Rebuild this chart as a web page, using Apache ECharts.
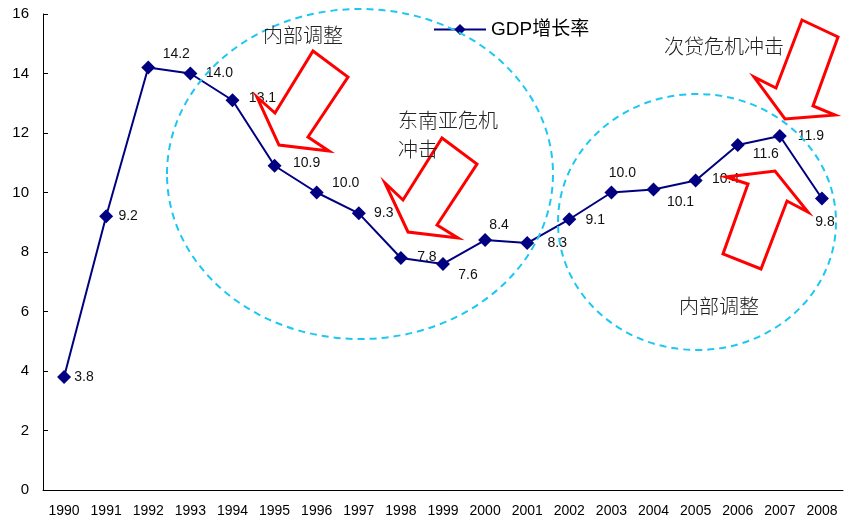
<!DOCTYPE html>
<html>
<head>
<meta charset="utf-8">
<script src="https://cdn.jsdelivr.net/npm/echarts@6/dist/echarts.min.js"></script>
<style>
  html, body { margin: 0; padding: 0; background: #fff; }
  #chart { width: 845px; height: 522px; }
</style>
</head>
<body>
<div id="chart"></div>
<script>
// Annual GDP growth, 1990–2008 (%)
const years = ['1990', '1991', '1992', '1993', '1994', '1995', '1996', '1997', '1998', '1999',
               '2000', '2001', '2002', '2003', '2004', '2005', '2006', '2007', '2008'];
const gdpGrowth = [3.8, 9.2, 14.2, 14.0, 13.1, 10.9, 10.0, 9.3, 7.8, 7.6,
                   8.4, 8.3, 9.1, 10.0, 10.1, 10.4, 11.6, 11.9, 9.8];
const seriesName = 'GDP增长率';
const yTicks = [0, 2, 4, 6, 8, 10, 12, 14, 16];

// where each value label sits relative to its marker (px)
const labelShift = [
  [20, 0], [22, 0], [28, -13], [29, 0], [30, -2], [32, -3], [29, -9], [25, 0], [26, -1], [25, 11],
  [14, -15], [30, 0], [26, 1], [11, -19], [27, 13], [30, -1], [28, 9], [31, 0], [3, 24]
];

const RED = '#FF0000';
const CYAN = '#1CC8F2';
const NAVY = '#000080';
const cjk = '"Noto Sans CJK SC", "Noto Sans", sans-serif';
const latin = '"Liberation Sans", Arial, sans-serif';

function arrow(points) {
  return {
    type: 'polygon', z: 100,
    shape: { points: points },
    style: { fill: 'none', stroke: RED, lineWidth: 3, lineJoin: 'miter' }
  };
}
function ring(cx, cy, rx, ry) {
  return {
    type: 'ellipse', z: 90,
    shape: { cx: cx, cy: cy, rx: rx, ry: ry },
    style: { fill: 'none', stroke: CYAN, lineWidth: 2, lineDash: [7, 5] }
  };
}
function note(x, y, text) {
  return {
    type: 'text', z: 110, left: x, top: y,
    style: { text: text, fill: '#222', font: '300 20px ' + cjk, lineHeight: 29 }
  };
}

const chart = echarts.init(document.getElementById('chart'));
chart.setOption({
  animation: false,
  backgroundColor: '#fff',
  grid: { left: 43, right: 2, top: 14, bottom: 32, containLabel: false },
  legend: {
    data: [seriesName],
    left: 428, top: 15,
    itemWidth: 52, itemHeight: 14,
    itemGap: 6,
    textStyle: { fontFamily: latin + ', ' + cjk, fontSize: 19, color: '#000' }
  },
  xAxis: {
    type: 'category',
    data: years,
    boundaryGap: true,
    axisLine: { lineStyle: { color: '#000', width: 1 } },
    axisTick: { inside: true, length: 5, lineStyle: { color: '#000' } },
    axisLabel: {
      color: '#000', fontSize: 14, margin: 14,
      fontFamily: '"Liberation Sans Narrow", "Arial Narrow", ' + latin
    },
    splitLine: { show: false }
  },
  yAxis: {
    type: 'value',
    min: yTicks[0], max: yTicks[yTicks.length - 1], interval: 2,
    axisLine: { show: true, lineStyle: { color: '#000', width: 1 } },
    axisTick: { show: true, inside: true, length: 5, lineStyle: { color: '#000' } },
    axisLabel: { color: '#000', fontSize: 15, margin: 14, fontFamily: latin },
    splitLine: { show: false }
  },
  series: [{
    name: seriesName,
    type: 'line',
    data: gdpGrowth.map((v, i) => ({
      value: v,
      label: { offset: labelShift[i] }
    })),
    symbol: 'diamond',
    symbolSize: 14,
    itemStyle: { color: NAVY },
    lineStyle: { color: NAVY, width: 2 },
    label: {
      show: true,
      position: 'inside',
      formatter: p => p.value.toFixed(1),
      color: '#111',
      fontSize: 14,
      fontFamily: latin
    },
    z: 10
  }],
  graphic: [
    ring(360, 174, 193, 165),
    ring(697, 222, 139, 128),
    arrow([[313, 51], [348, 77], [308, 137], [329, 151], [279, 145], [257, 97], [275, 113]]),
    arrow([[442, 138], [477, 164], [437, 225], [458, 238], [408, 232], [385, 183], [403, 200]]),
    arrow([[802, 20], [838, 37], [813, 106], [835, 115], [785, 119], [754, 77], [776, 88]]),
    arrow([[748, 184], [726, 177], [775, 171], [808, 212], [787, 201], [761, 269], [723, 254]]),
    note(263, 21, '内部调整'),
    note(398, 106, '东南亚危机\n冲击'),
    note(664, 32, '次贷危机冲击'),
    note(679, 292, '内部调整')
  ]
});
</script>
</body>
</html>
